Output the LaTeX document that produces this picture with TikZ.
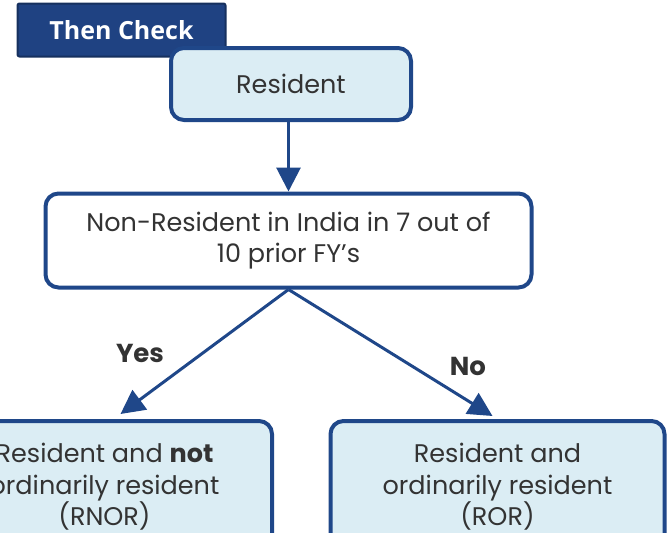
\documentclass[tikz,border=0pt]{standalone}
\usepackage{fontspec}
\setmainfont{Poppins}
\newfontfamily\headfont{Open Sans}
\usetikzlibrary{arrows.meta, positioning}

\definecolor{boxblue}{RGB}{31,71,137}
\definecolor{boxfill}{RGB}{219,237,244}
\definecolor{headblue}{RGB}{31,66,130}
\definecolor{headline}{RGB}{22,48,94}
\definecolor{textgray}{RGB}{51,51,51}

\begin{document}
\begin{tikzpicture}[x=1pt, y=-1pt, line join=round,
	>={Triangle[width=24pt,length=24pt]},
	box/.style={draw=boxblue, line width=4pt, rounded corners=13pt,
		text=textgray, align=center, inner sep=0pt,
		font=\fontsize{25.5}{31.5}\selectfont},
	link/.style={draw=boxblue, line width=3pt, ->},
	choice/.style={font=\fontsize{26}{28}\selectfont\bfseries, text=textgray}]

\useasboundingbox (0,0) rectangle (667,533);
\clip (0,0) rectangle (667,533);

%========================
% Heading tab
%========================
\node[draw=headline, fill=headblue, line width=2pt, rounded corners=2pt,
	minimum width=208pt, minimum height=53pt, text=white, inner sep=0pt,
	font=\headfont\fontsize{25}{28}\selectfont\bfseries] (head) at (121.5,30) {Then Check};

%========================
% Boxes
%========================
\node[box, fill=boxfill, minimum width=240pt, minimum height=72pt] (res) at (291,84) {Resident};
\node[box, fill=white, minimum width=486pt, minimum height=94pt] (nr) at (288.5,240.5)
	{Non-Resident in India in 7 out of\\10 prior FY's};
\node[box, fill=boxfill, minimum width=335pt, minimum height=132pt] (rnor) at (104.5,487)
	{Resident and \textbf{not}\\ordinarily resident\\(RNOR)};
\node[box, fill=boxfill, minimum width=334pt, minimum height=132pt] (ror) at (497.5,487)
	{Resident and\\ordinarily resident\\(ROR)};

%========================
% Connectors
%========================
\draw[link] (nr.north |- res.south) -- (nr.north);
\draw[link] (nr.south) -- ([xshift=16pt,yshift=5pt]rnor.north);
\draw[link] (nr.south) -- ([xshift=-5pt,yshift=3pt]ror.north);

% branch labels
\node[choice] (yes) at (140,353) {Yes};
\node[choice] (no) at (468,366) {No};

\end{tikzpicture}
\end{document}
